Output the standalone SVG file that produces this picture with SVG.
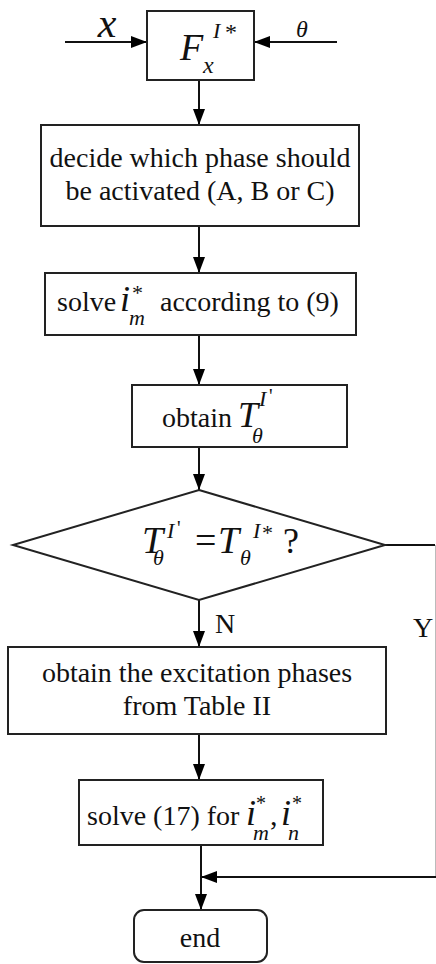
<svg xmlns="http://www.w3.org/2000/svg" width="436" height="964" viewBox="0 0 436 964">
<defs>
<marker id="ah" markerUnits="userSpaceOnUse" markerWidth="16" markerHeight="12" refX="16" refY="6" orient="auto">
<path d="M0,0 L16,6 L0,12 z" fill="#000"/>
</marker>
<style>
.box{fill:#fff;stroke:#222;stroke-width:2}
.ln{fill:none;stroke:#111;stroke-width:2}
.t{font-family:"Liberation Serif","Times New Roman",serif;font-size:28px;fill:#111}
.m{font-family:"Liberation Serif","Times New Roman",serif;font-style:italic;fill:#111}
.r{font-family:"Liberation Serif","Times New Roman",serif;fill:#111}
</style>
</defs>
<rect width="436" height="964" fill="#fff"/>
<g id="connectors">
<line class="ln" x1="65" y1="42" x2="147" y2="42" marker-end="url(#ah)"/>
<line class="ln" x1="337" y1="42" x2="254" y2="42" marker-end="url(#ah)"/>
<line class="ln" x1="199" y1="80" x2="199" y2="125" marker-end="url(#ah)"/>
<line class="ln" x1="199" y1="226" x2="199" y2="273" marker-end="url(#ah)"/>
<line class="ln" x1="199" y1="335" x2="199" y2="385" marker-end="url(#ah)"/>
<line class="ln" x1="199" y1="447" x2="199" y2="490" marker-end="url(#ah)"/>
<line class="ln" x1="199" y1="600" x2="199" y2="647" marker-end="url(#ah)"/>
<line class="ln" x1="199" y1="734" x2="199" y2="780" marker-end="url(#ah)"/>
<line class="ln" x1="201" y1="845" x2="201" y2="910" marker-end="url(#ah)"/>
<line class="ln" x1="385" y1="545" x2="435" y2="545"/>
<line x1="435.5" y1="545" x2="435.5" y2="877" stroke="#bbb" stroke-width="1"/>
<line class="ln" x1="436" y1="877" x2="201" y2="877" marker-end="url(#ah)"/>
<text class="t" x="215" y="633">N</text>
<text class="t" x="413" y="637">Y</text>
<text class="m" x="107" y="37" font-size="42" text-anchor="middle">x</text>
<text class="m" x="302" y="37" font-size="24" text-anchor="middle">θ</text>
</g>
<g id="n1">
<rect class="box" x="147" y="11" width="107" height="69"/>
<text class="m" x="180" y="60" font-size="38">F</text>
<text class="m" x="213" y="38" font-size="22">I</text>
<text class="r" x="225" y="40" font-size="24">*</text>
<text class="m" x="203" y="73" font-size="24">x</text>
</g>
<g id="n2">
<rect class="box" x="41" y="125" width="318" height="101"/>
<text class="t" x="200" y="167" text-anchor="middle">decide which phase should</text>
<text class="t" x="200" y="200" text-anchor="middle">be activated (A, B or C)</text>
</g>
<g id="n3">
<rect class="box" x="45" y="273" width="311" height="62"/>
<text class="t" x="57" y="311">solve</text>
<text class="m" x="120" y="311" font-size="36">i</text>
<text class="r" x="132" y="300" font-size="22">*</text>
<text class="m" x="129" y="325" font-size="22">m</text>
<text class="t" x="160" y="311">according to (9)</text>
</g>
<g id="n4">
<rect class="box" x="132" y="385" width="215" height="62"/>
<text class="t" x="162" y="427">obtain</text>
<text class="m" x="238" y="427" font-size="36">T</text>
<text class="m" x="252" y="443" font-size="22">θ</text>
<text class="m" x="259" y="406" font-size="22">I</text>
<text class="r" x="269" y="403" font-size="20">'</text>
</g>
<g id="n5">
<polygon class="box" points="199,490 385,545 199,600 13,545"/>
<text class="m" x="142" y="553" font-size="38">T</text>
<text class="m" x="153" y="565" font-size="22">θ</text>
<text class="m" x="167" y="538" font-size="22">I</text>
<text class="r" x="177" y="535" font-size="20">'</text>
<text class="r" x="195" y="553" font-size="38">=</text>
<text class="m" x="218" y="553" font-size="38">T</text>
<text class="m" x="240" y="565" font-size="22">θ</text>
<text class="m" x="253" y="538" font-size="22">I</text>
<text class="r" x="262" y="540" font-size="22">*</text>
<text class="r" x="283" y="553" font-size="36">?</text>
</g>
<g id="n6">
<rect class="box" x="8" y="647" width="378" height="87"/>
<text class="t" x="197" y="682" text-anchor="middle">obtain the excitation phases</text>
<text class="t" x="197" y="715" text-anchor="middle">from Table II</text>
</g>
<g id="n7">
<rect class="box" x="79" y="780" width="244" height="65"/>
<text class="t" x="87" y="825">solve (17) for</text>
<text class="m" x="246" y="825" font-size="36">i</text>
<text class="r" x="256" y="810" font-size="20">*</text>
<text class="m" x="253" y="840" font-size="22">m</text>
<text class="r" x="270" y="825" font-size="30">,</text>
<text class="m" x="281" y="825" font-size="36">i</text>
<text class="r" x="292" y="810" font-size="20">*</text>
<text class="m" x="288" y="840" font-size="22">n</text>
</g>
<g id="n8">
<rect class="box" x="134" y="910" width="133" height="52" rx="10"/>
<text class="t" x="200" y="947" text-anchor="middle">end</text>
</g>
</svg>
